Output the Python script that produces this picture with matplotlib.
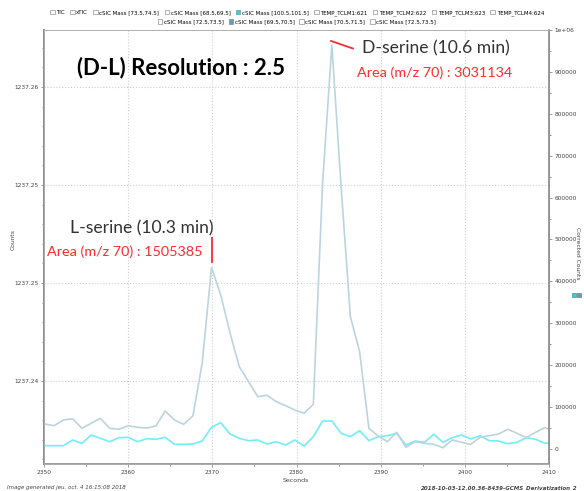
import numpy as np
import matplotlib
matplotlib.use('Agg')
import matplotlib.pyplot as plt
from matplotlib.ticker import FixedLocator, FixedFormatter, AutoMinorLocator, FuncFormatter, MultipleLocator
from matplotlib.lines import Line2D
from matplotlib.patches import Patch, Rectangle

# retention time (seconds)
seconds = [2350.1, 2351.2, 2352.3, 2353.4, 2354.5, 2355.6, 2356.7, 2357.8, 2358.9, 2360.0,
           2361.1, 2362.2, 2363.3, 2364.4, 2365.5, 2366.6, 2367.7, 2368.8, 2369.9, 2371.0,
           2372.1, 2373.2, 2374.3, 2375.4, 2376.5, 2377.6, 2378.7, 2379.8, 2380.9, 2382.0,
           2383.1, 2384.2, 2385.3, 2386.4, 2387.5, 2388.6, 2389.7, 2390.8, 2391.9, 2393.0,
           2394.1, 2395.2, 2396.3, 2397.4, 2398.5, 2399.6, 2400.7, 2401.8, 2402.9, 2404.0,
           2405.1, 2406.2, 2407.3, 2408.4, 2409.5, 2410.6]

# cSIC Mass [69.5,70.5] (m/z 70)
mz70 = [59700, 55600, 69200, 72300, 49400, 61300, 73300, 49400, 47000, 55600,
        51800, 50100, 54900, 90700, 69200, 59000, 79500, 205300, 432800, 367600,
        276900, 196500, 160600, 124800, 128200, 112900, 103400, 93100, 85200, 106700,
        634200, 964300, 626100, 315800, 232300, 49400, 31000, 17400, 39900, 4100,
        17400, 13600, 11200, 3100, 21500, 16000, 11200, 27900, 31700, 35800,
        47000, 37500, 27000, 39900, 50800, 43700]

# cSIC Mass [100.5,101.5]
mz101 = [7900, 7900, 7900, 21500, 13600, 33400, 25500, 17400, 27000, 27900,
         17400, 24600, 23200, 27900, 11200, 11200, 11900, 19100, 51800, 62800,
         35800, 25500, 19800, 21500, 11900, 17400, 9500, 21500, 7200, 29400,
         66800, 66800, 37500, 29400, 43700, 19800, 29400, 31700, 37500, 9500,
         19100, 16000, 35100, 16000, 27000, 33400, 23900, 31700, 19800, 19100,
         12700, 16000, 27000, 23200, 13600, 15000]

left_ticks = [1237.2425, 1237.2475, 1237.2525, 1237.2575]
left_labels = ['1237.24', '1237.25', '1237.25', '1237.26']

legend_row1 = ['TIC', 'xTIC', 'cSIC Mass [73.5,74.5]', 'cSIC Mass [68.5,69.5]',
               'cSIC Mass [100.5,101.5]', 'TEMP_TCLM1:621', 'TEMP_TCLM2:622',
               'TEMP_TCLM3:623', 'TEMP_TCLM4:624']
legend_row2 = ['cSIC Mass [72.5,73.5]', 'cSIC Mass [69.5,70.5]',
               'cSIC Mass [70.5,71.5]', 'cSIC Mass [72.5,73.5]']

c70 = '#bcd4e0'
c101 = '#72eef8'
grid_c = '#cfcfcf'
axis_c = '#8a8a8a'

fig = plt.figure(figsize=(5.84, 4.91), dpi=100)
ax = fig.add_axes([44/584, 1-464/491, (549-44)/584, (464-30)/491])
ax2 = ax.twinx()

# left (dummy) axis with the odd counts labels
ax.set_xlim(2350, 2410)
ax.set_ylim(1237.238265, 1237.260408)
ax.yaxis.set_major_locator(FixedLocator(left_ticks))
ax.yaxis.set_major_formatter(FixedFormatter(left_labels))
ax.yaxis.set_minor_locator(AutoMinorLocator(5))
ax.xaxis.set_major_locator(MultipleLocator(10))
ax.xaxis.set_minor_locator(MultipleLocator(5))
ax.grid(True, which='major', linestyle=':', color=grid_c, linewidth=0.8)
ax.set_axisbelow(True)

# right axis carries the data
ax2.plot(seconds, mz101, color=c101, linewidth=1.2)
ax2.plot(seconds, mz70, color=c70, linewidth=1.2)
ax2.set_xlim(2350, 2410)
ax2.set_ylim(-35800, 1e6)
ax2.yaxis.set_major_locator(MultipleLocator(100000))
ax2.yaxis.set_minor_locator(MultipleLocator(50000))
ax2.yaxis.set_major_formatter(FuncFormatter(lambda v, p: '1e+06' if v >= 1e6 else '%d' % v))

for a in (ax, ax2):
    for s in a.spines.values():
        s.set_color('#b0b0b0')
        s.set_linewidth(0.6)
    a.tick_params(which='both', labelsize=4.2, colors='#444444', length=2.5, width=0.6, pad=1.5)
    a.tick_params(which='minor', length=1.5)
ax.spines['left'].set_color(axis_c)
ax.spines['left'].set_linewidth(1.4)
ax.spines['bottom'].set_color(axis_c)
ax.spines['bottom'].set_linewidth(1.2)
ax2.spines['right'].set_color(axis_c)
ax2.spines['right'].set_linewidth(1.2)
ax.tick_params(axis='both', which='both', color=axis_c)
ax2.tick_params(axis='y', which='both', color=axis_c)

fig.text(13/584, 1-240/491, 'Counts', rotation=90, fontsize=4.3, color='#444444',
         ha='center', va='center')
fig.text(578/584, 1-253/491, 'Corrected Counts', rotation=270, fontsize=4.3,
         color='#444444', ha='center', va='center')
fig.add_artist(Rectangle((572/584, 1-297/491), 4/584, 4/491, transform=fig.transFigure,
                         facecolor='#00e5ee', edgecolor='#666666', linewidth=0.4))
fig.add_artist(Rectangle((577/584, 1-297/491), 4/584, 4/491, transform=fig.transFigure,
                         facecolor='#5f9fb8', edgecolor='#666666', linewidth=0.4))
fig.text(296/584, 1-481/491, 'Seconds', fontsize=4.5, color='#444444', ha='center', va='center')
fig.text(7/584, 1-488/491, 'Image generated jeu. oct. 4 16:15:08 2018', fontsize=4,
         style='italic', color='#444444', ha='left', va='center')
fig.text(578/584, 1-488/491, '2018-10-03-12.00.36-8439-GCMS_Derivatization_2', fontsize=4,
         style='italic', weight='bold', color='#444444', ha='right', va='center')

# legend rows at the top
def box(face):
    return Patch(facecolor=face, edgecolor='#777777', linewidth=0.4)

h1 = [box('#00e5ee') if lab == 'cSIC Mass [100.5,101.5]' else box('white') for lab in legend_row1]
h2 = [box('#5f9fb8') if i == 1 else box('white') for i in range(len(legend_row2))]
lg1 = fig.legend(h1, legend_row1, loc='center', bbox_to_anchor=(297/584, 1-13/491), ncol=9,
                 fontsize=4.0, frameon=False, handlelength=0.8, handleheight=0.8,
                 handletextpad=0.3, columnspacing=0.95, borderpad=0)
lg2 = fig.legend(h2, legend_row2, loc='center', bbox_to_anchor=(297/584, 1-22/491), ncol=4,
                 fontsize=4.0, frameon=False, handlelength=0.8, handleheight=0.8,
                 handletextpad=0.3, columnspacing=0.85, borderpad=0)

# annotations
fnt = ['Lato', 'DejaVu Sans']
fig.text(181/584, 1-68/491, '(D-L) Resolution : 2.5', fontsize=16, weight='bold',
         family=fnt, color='black', ha='center', va='center')
fig.text(362/584, 1-48/491, 'D-serine (10.6 min)', fontsize=12.6, family=fnt,
         color='#333333', ha='left', va='center')
fig.text(357/584, 1-73/491, 'Area (m/z 70) : 3031134', fontsize=10.4, family=fnt,
         color='#ff2a2a', ha='left', va='center')
fig.text(70/584, 1-228/491, 'L-serine (10.3 min)', fontsize=12.6, family=fnt,
         color='#333333', ha='left', va='center')
fig.text(47/584, 1-252/491, 'Area (m/z 70) : 1505385', fontsize=10.4, family=fnt,
         color='#ff2a2a', ha='left', va='center')
fig.add_artist(Line2D([212/584, 212/584], [1-238/491, 1-262/491], transform=fig.transFigure,
                      color='#ff2a2a', linewidth=1.3))
fig.add_artist(Line2D([331/584, 353/584], [1-41/491, 1-48.5/491], transform=fig.transFigure,
                      color='#ff2a2a', linewidth=1.3))

fig.savefig('out.png', dpi=100)
